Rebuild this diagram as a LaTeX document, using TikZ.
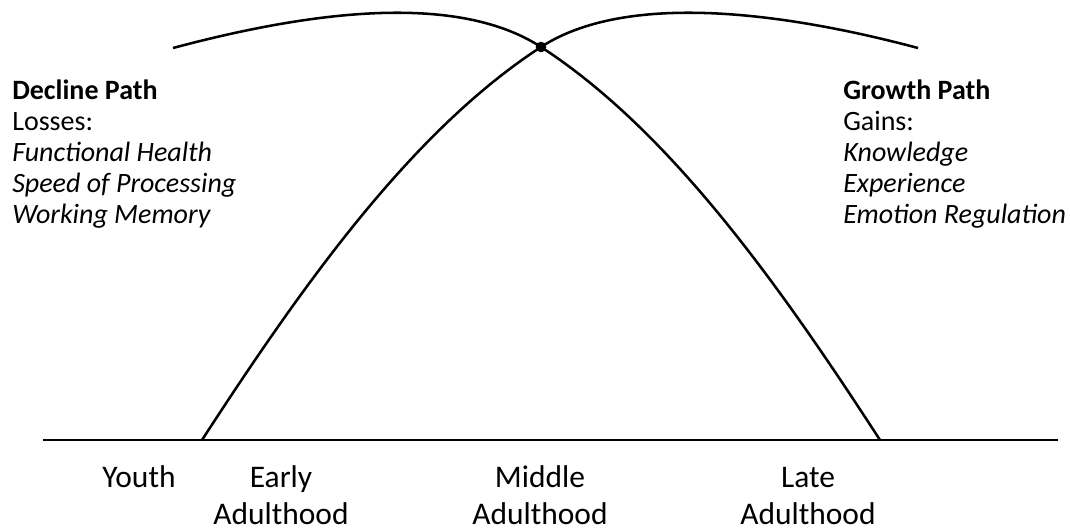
\documentclass[tikz,border=0pt]{standalone}
\usepackage{fontspec}
\setmainfont{Carlito}
\usepackage{tikz}

\begin{document}
\begin{tikzpicture}[
  x=0.75pt, y=-0.75pt,
  curve/.style={line width=1.9pt},
  axis/.style={line width=1.1pt},
  pathtext/.style={align=left, inner sep=0pt, font=\fontsize{21}{23.4}\selectfont},
  stage/.style={align=center, inner sep=0pt, font=\fontsize{23.6}{27.75}\selectfont},
  meet/.style={circle, fill, inner sep=0pt, minimum size=8pt}
]
  \useasboundingbox (0,0) rectangle (1070,530);

  % Zeitachse
  \coordinate (axl) at (43,440);
  \coordinate (axr) at (1058,440);
  \draw[axis] (axl) -- (axr);

  % Kurven
  \node[meet] (mid) at (541,47) {};
  \coordinate (dstart) at (173,48);
  \coordinate (dend) at (880,440);
  \coordinate (gstart) at (202,440);
  \coordinate (gend) at (918,48);
  \draw[curve] (dstart) .. controls +(120,-32) and +(-90,-58.5) .. (mid.center)
    .. controls +(130,84.5) and +(-100,-154) .. (dend);
  \draw[curve] (gstart) .. controls +(100,-154) and +(-130,84.5) .. (mid.center)
    .. controls +(90,-58.5) and +(-120,-32) .. (gend);

  % Pfade
  \node[pathtext, anchor=base west] (decline) at (12,224)
    {\textbf{Decline Path}\\Losses:\\\textit{Functional Health}\\
     \textit{Speed of Processing}\\\textit{Working Memory}};
  \node[pathtext, anchor=base west] (growth) at (843,224)
    {\textbf{Growth Path}\\Gains:\\\textit{Knowledge}\\
     \textit{Experience}\\\textit{Emotion Regulation}};

  % Lebensabschnitte
  \node[stage, anchor=base] (youth) at (139,487) {Youth};
  \node[stage, anchor=base] (early) at (281,524) {Early\\Adulthood};
  \node[stage, anchor=base] (middle) at (540,524) {Middle\\Adulthood};
  \node[stage, anchor=base] (late) at (808,524) {Late\\Adulthood};
\end{tikzpicture}
\end{document}
